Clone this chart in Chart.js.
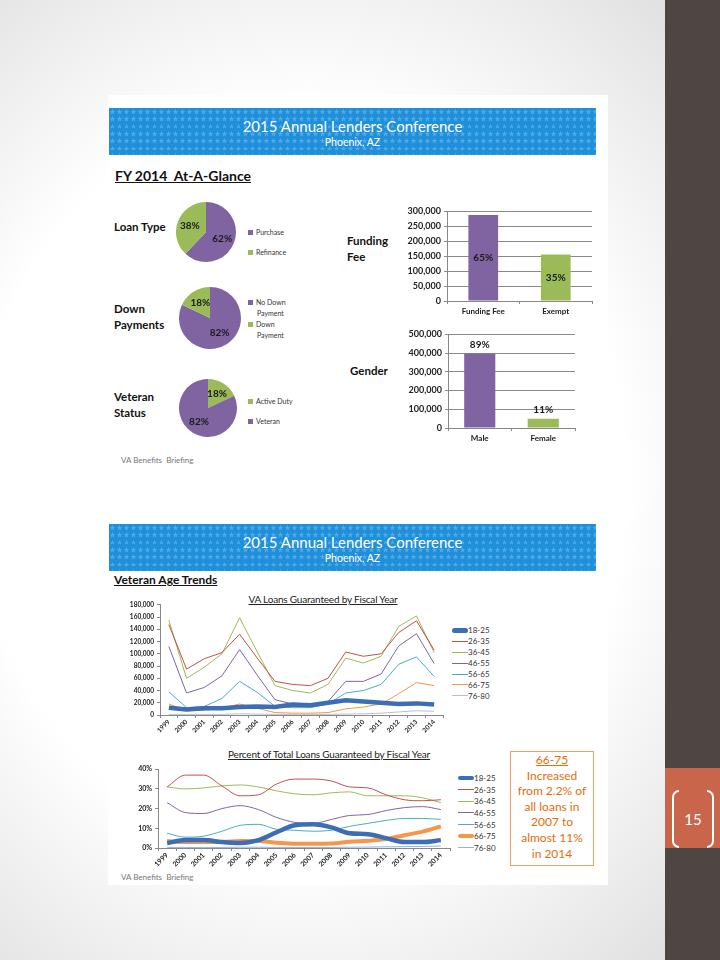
<!DOCTYPE html>
<html>
<head>
<meta charset="utf-8">
<script src="https://cdn.jsdelivr.net/npm/chart.js@4.4.1/dist/chart.umd.min.js"></script>
<style>
  body { margin:0; width:720px; height:960px; position:relative; overflow:hidden; font-family:Lato, "Open Sans", sans-serif;
         background: radial-gradient(ellipse 75% 65% at 42% 50%, #ffffff 60%, #e2e2e2 100%); }
  .abs { position:absolute; }
  .panel { position:absolute; background:#fff; }
  .banner { position:absolute; left:109px; width:487px; height:47px; color:#fff; text-align:center;
            background-color:#1e8fd8;
            background-image:url("data:image/svg+xml,%3Csvg xmlns='http://www.w3.org/2000/svg' width='7' height='7.4'%3E%3Cpolygon points='3.5,0.6 4.3,2.7 6.4,2.7 4.7,4 5.3,6.1 3.5,4.8 1.7,6.1 2.3,4 0.6,2.7 2.7,2.7' fill='%2350aae8'/%3E%3C/svg%3E"); }
  .banner .t { font-size:15px; line-height:18px; margin-top:9px; }
  .banner .s { font-size:10.5px; line-height:14px; }
  .head { position:absolute; font-weight:bold; text-decoration:underline; color:#111; }
  .lbl { position:absolute; font-weight:bold; font-size:11.5px; line-height:16px; color:#111; }
  .foot { position:absolute; font-size:8px; color:#777; }
  .ctitle { position:absolute; font-size:10px; text-decoration:underline; color:#222; text-align:center; letter-spacing:-0.2px; }
  canvas { position:absolute; }
  .leg { position:absolute; font-size:8px; color:#333; width:50px; white-space:nowrap; }
  .leg div { position:relative; }
  .leg span.sw { position:absolute; left:0; }
  .pleg { position:absolute; font-size:7px; color:#333; line-height:10.5px; white-space:nowrap; }
  .pleg i { display:inline-block; width:5px; height:5px; margin-right:3px; vertical-align:0px; }
  .note { position:absolute; left:510px; top:751px; width:82px; height:113px; border:1.5px solid #f0a060;
          color:#e46c0a; font-size:12px; line-height:15.6px; text-align:center; }
</style>
</head>
<body>
<div class="panel" style="left:108px;top:95px;width:500px;height:375px;"></div>
<div class="panel" style="left:108px;top:515px;width:500px;height:370px;"></div>

<div class="abs" style="left:665px;top:0;width:55px;height:960px;background:#4f4643;"></div>
<div class="abs" style="left:665px;top:768px;width:55px;height:80px;background:#c8654a;"></div>
<div class="abs" style="left:672px;top:790px;width:5px;height:54px;border:2px solid #fff;border-right:none;border-radius:7px 0 0 7px;"></div>
<div class="abs" style="left:707px;top:790px;width:5px;height:54px;border:2px solid #fff;border-left:none;border-radius:0 7px 7px 0;"></div>
<div class="abs" style="left:680px;top:809px;width:26px;text-align:center;color:#fff;font-size:15px;line-height:20px;">15</div>

<div class="banner" style="top:108px;"><div class="t">2015 Annual Lenders Conference</div><div class="s">Phoenix, AZ</div></div>
<div class="banner" style="top:524px;"><div class="t">2015 Annual Lenders Conference</div><div class="s">Phoenix, AZ</div></div>

<div class="head" style="left:115px;top:167px;font-size:14px;">FY 2014&nbsp; At-A-Glance</div>
<div class="lbl" style="left:114px;top:219px;">Loan Type</div>
<div class="lbl" style="left:114px;top:301px;">Down<br>Payments</div>
<div class="lbl" style="left:114px;top:389px;">Veteran<br>Status</div>
<div class="lbl" style="left:347px;top:233px;">Funding<br>Fee</div>
<div class="lbl" style="left:350px;top:363px;">Gender</div>
<div class="foot" style="left:121px;top:455px;">VA Benefits&nbsp; Briefing</div>
<div class="foot" style="left:121px;top:872px;">VA Benefits&nbsp; Briefing</div>

<div class="head" style="left:114px;top:572px;font-size:12px;">Veteran Age Trends</div>
<div class="ctitle" style="left:200px;top:593px;width:246px;">VA Loans Guaranteed by Fiscal Year</div>
<div class="ctitle" style="left:190px;top:748px;width:278px;">Percent of Total Loans Guaranteed by Fiscal Year</div>

<canvas id="pie1" style="left:176px;top:202px;width:60px;height:60px;"></canvas>
<canvas id="pie2" style="left:179px;top:287px;width:62px;height:62px;"></canvas>
<canvas id="pie3" style="left:179px;top:379px;width:58px;height:58px;"></canvas>
<div class="pleg" id="pleg1" style="left:248px;top:227px;"></div>
<div class="pleg" id="pleg2" style="left:248px;top:297px;"></div>
<div class="pleg" id="pleg3" style="left:248px;top:396px;"></div>

<canvas id="bar1" style="left:395px;top:203px;width:205px;height:120px;"></canvas>
<canvas id="bar2" style="left:395px;top:326px;width:190px;height:122px;"></canvas>

<canvas id="line1" style="left:110px;top:598px;width:340px;height:150px;"></canvas>
<canvas id="line2" style="left:108px;top:762px;width:345px;height:116px;"></canvas>
<div class="leg" id="leg1" style="left:452px;top:625px;"></div>
<div class="leg" id="leg2" style="left:458px;top:772px;"></div>

<div class="note"><u>66-75</u><br>Increased<br>from 2.2% of<br>all loans in<br>2007 to<br>almost 11%<br>in 2014</div>

<script>
// ---- data ----
const loanTypeLabels = ['Purchase', 'Refinance'];
const loanTypeValues = [62, 38];
const downLabels = ['No Down Payment', 'Down Payment'];
const downValues = [82, 18];
const vetLabels = ['Active Duty', 'Veteran'];
const vetValues = [18, 82];

const feeLabels = ['Funding Fee', 'Exempt'];
const feeValues = [288000, 156000];
const feePct = ['65%', '35%'];
const genderLabels = ['Male', 'Female'];
const genderValues = [398000, 49000];
const genderPct = ['89%', '11%'];

const years = ['1999','2000','2001','2002','2003','2004','2005','2006','2007','2008','2009','2010','2011','2012','2013','2014'];
const ageGroups = ['18-25','26-35','36-45','46-55','56-65','66-75','76-80'];

const loans1825 = [12000, 9000, 11000, 11000, 13000, 14000, 13000, 17000, 16000, 20000, 24000, 22000, 20000, 18000, 19000, 17000];
const loans2635 = [148000, 75000, 92000, 102000, 132000, 93000, 55000, 50000, 48000, 60000, 103000, 96000, 100000, 135000, 154000, 106000];
const loans3645 = [155000, 60000, 78000, 100000, 159000, 103000, 48000, 40000, 36000, 50000, 93000, 85000, 96000, 145000, 162000, 102000];
const loans4655 = [112000, 36000, 45000, 64000, 107000, 65000, 25000, 18000, 15000, 22000, 55000, 55000, 67000, 113000, 133000, 84000];
const loans5665 = [38000, 12000, 14000, 27000, 55000, 37000, 14000, 12000, 12000, 18000, 36000, 40000, 50000, 83000, 95000, 63000];
const loans6675 = [18000, 7000, 8000, 11000, 18000, 11000, 4000, 3000, 3000, 4000, 10000, 13000, 18000, 35000, 53000, 48000];
const loans7680 = [1000, 1000, 1000, 1000, 2000, 1500, 1000, 1000, 1000, 1000, 1500, 2000, 3000, 5000, 7000, 6000];

const pct1825 = [2.5, 4, 4, 3, 2.5, 4, 8, 11.5, 12, 10.5, 7.5, 7, 5, 3, 3, 4];
const pct2635 = [31, 37, 37, 31.5, 26.5, 27, 32.5, 35, 35, 34, 31, 30.5, 27, 24.5, 24, 24.5];
const pct3645 = [31, 30, 30.5, 31.5, 32, 31, 29, 27.5, 27, 28, 28.5, 26.5, 26.5, 26.5, 25.5, 23];
const pct4655 = [23, 18, 17.5, 20, 21.5, 19.5, 15.5, 13, 12.5, 14.5, 16.5, 17, 19, 20.5, 21, 19.5];
const pct5665 = [7.5, 5.5, 6, 8.5, 11.5, 12, 9.5, 9, 8.5, 9, 11, 12.5, 14, 15, 15, 14.5];
const pct6675 = [3.5, 3, 3, 3, 3.5, 3.5, 2.7, 2.2, 2.2, 2.3, 3.2, 3.7, 4.5, 6.5, 8.3, 11];
const pct7680 = [0.3, 0.3, 0.3, 0.3, 0.4, 0.4, 0.3, 0.3, 0.3, 0.3, 0.4, 0.5, 0.6, 0.7, 0.8, 1];

// ---- styles ----
const purple = '#8064a2', green = '#9bbb59';
const colors1 = ['#3d6db5', '#c0504d', '#9bbb59', '#8064a2', '#4bacc6', '#f79646', '#bdbdd6'];
const widths1 = [4.5, 1, 1, 1, 1, 1, 1];
const colors2 = ['#3d6db5', '#c0504d', '#9bbb59', '#8064a2', '#4bacc6', '#f79646', '#8db4e2'];
const widths2 = [4.5, 1, 1, 1, 1, 4, 1];

Chart.defaults.font.family = 'Lato';
Chart.defaults.color = '#222';
Chart.defaults.animation = false;
Chart.defaults.plugins.legend.display = false;
Chart.defaults.plugins.tooltip.enabled = false;

const pieLabels = {
  id: 'pieLabels',
  afterDatasetsDraw(chart) {
    const ctx = chart.ctx, meta = chart.getDatasetMeta(0);
    ctx.save();
    ctx.font = 'bold 10px Lato'; ctx.fillStyle = '#1a1a1a';
    ctx.textAlign = 'center'; ctx.textBaseline = 'middle';
    meta.data.forEach((arc, i) => {
      const p = arc.getProps(['x', 'y', 'startAngle', 'endAngle', 'outerRadius'], true);
      const a = (p.startAngle + p.endAngle) / 2, r = p.outerRadius * 0.58;
      ctx.fillText(chart.data.datasets[0].data[i] + '%', p.x + Math.cos(a) * r, p.y + Math.sin(a) * r);
    });
    ctx.restore();
  }
};

function pie(id, labels, values, cols, legId) {
  new Chart(document.getElementById(id), {
    type: 'pie',
    data: { labels: labels, datasets: [{ data: values, backgroundColor: cols, borderWidth: 0 }] },
    options: { responsive: false, layout: { padding: 0 } },
    plugins: [pieLabels]
  });
  const leg = document.getElementById(legId);
  leg.innerHTML = labels.map((l, i) => {
    const parts = l.split(' ');
    let txt = l;
    if (l.indexOf('Payment') > 0) txt = parts.slice(0, parts.length - 1).join(' ') + '<br>&nbsp;&nbsp;&nbsp;&nbsp;&nbsp;' + parts[parts.length - 1];
    return '<div style="margin-bottom:' + (l.indexOf('Payment') > 0 ? 1 : 9) + 'px"><i style="background:' + cols[i] + '"></i>' + txt + '</div>';
  }).join('');
}
pie('pie1', loanTypeLabels, loanTypeValues, [purple, green], 'pleg1');
pie('pie2', downLabels, downValues, [purple, green], 'pleg2');
pie('pie3', vetLabels, vetValues, [green, purple], 'pleg3');

const barLabels = {
  id: 'barLabels',
  afterDatasetsDraw(chart, args, opts) {
    const ctx = chart.ctx, meta = chart.getDatasetMeta(0);
    ctx.save();
    ctx.font = 'bold 10px Lato'; ctx.fillStyle = '#1a1a1a'; ctx.textAlign = 'center';
    meta.data.forEach((bar, i) => {
      if (opts.mode === 'center') { ctx.textBaseline = 'middle'; ctx.fillText(opts.text[i], bar.x, (bar.y + bar.base) / 2); }
      else { ctx.textBaseline = 'bottom'; ctx.fillText(opts.text[i], bar.x, bar.y - 4); }
    });
    ctx.restore();
  }
};

function bar(id, labels, values, max, step, pctText, mode, yw, xh, pad, pct) {
  new Chart(document.getElementById(id), {
    type: 'bar',
    data: { labels: labels, datasets: [{ data: values, backgroundColor: [purple, green], categoryPercentage: 1, barPercentage: pct }] },
    options: {
      responsive: false,
      layout: { padding: pad },
      plugins: { barLabels: { text: pctText, mode: mode } },
      scales: {
        x: { grid: { offset: true, drawOnChartArea: false, tickLength: 3, color: '#888' }, border: { color: '#888' },
             ticks: { font: { size: 8, weight: 'bold' }, padding: 3 }, afterFit: s => { s.height = xh; } },
        y: { min: 0, max: max, ticks: { stepSize: step, font: { size: 9, weight: 'bold' }, padding: 3,
             callback: v => v.toLocaleString('en-US') },
             grid: { color: '#8a8a8a', tickLength: 3 }, border: { color: '#888' }, afterFit: s => { s.width = yw; } }
      }
    },
    plugins: [barLabels]
  });
}
bar('bar1', feeLabels, feeValues, 300000, 50000, feePct, 'center', 52, 22, { top: 8, right: 8, left: 0, bottom: 0 }, 0.41);
bar('bar2', genderLabels, genderValues, 500000, 100000, genderPct, 'top', 53, 20, { top: 8, right: 10, left: 0, bottom: 0 }, 0.49);

function line(id, series, cols, widths, max, step, fmt, smooth, yw, xh, pad, legId, rowH, fsize) {
  new Chart(document.getElementById(id), {
    type: 'line',
    data: {
      labels: years,
      datasets: series.map((d, i) => ({ label: ageGroups[i], data: d, borderColor: cols[i], borderWidth: widths[i],
        pointRadius: 0, tension: smooth ? 0.4 : 0, cubicInterpolationMode: smooth ? 'monotone' : 'default',
        fill: false, order: widths[i] > 2 ? 0 : 1 }))
    },
    options: {
      responsive: false,
      layout: { padding: pad },
      scales: {
        x: { offset: true, grid: { offset: true, drawOnChartArea: false, tickLength: 3, color: '#888' }, border: { color: '#888' },
             ticks: { autoSkip: false, minRotation: 45, maxRotation: 45, font: { size: fsize, weight: 'bold' }, padding: 0 },
             afterFit: s => { s.height = xh; } },
        y: { min: 0, max: max, ticks: { stepSize: step, font: { size: fsize, weight: 'bold' }, padding: 3, callback: fmt },
             grid: { drawOnChartArea: false, tickLength: 3, color: '#888' }, border: { color: '#888' },
             afterFit: s => { s.width = yw; } }
      }
    }
  });
  document.getElementById(legId).innerHTML = ageGroups.map((g, i) =>
    '<div style="height:' + rowH + 'px"><span class="sw" style="top:' + (rowH / 2 - widths[i] / 2) + 'px;width:16px;height:' + widths[i] +
    'px;background:' + cols[i] + ';border-radius:' + (widths[i] > 2 ? 3 : 0) + 'px"></span><span style="position:absolute;left:16px;top:' +
    (rowH / 2 - 6) + 'px;line-height:12px">' + g + '</span></div>').join('');
}

line('line1', [loans1825, loans2635, loans3645, loans4655, loans5665, loans6675, loans7680], colors1, widths1,
  180000, 20000, v => v.toLocaleString('en-US'), false, 50, 33, { top: 6, right: 7, left: 0, bottom: 0 }, 'leg1', 10.9, 6.5);
line('line2', [pct1825, pct2635, pct3645, pct4655, pct5665, pct6675, pct7680], colors2, widths2,
  40, 10, v => v + '%', true, 50, 30, { top: 6, right: 3, left: 0, bottom: 0 }, 'leg2', 11.7, 7);
</script>
</body>
</html>
